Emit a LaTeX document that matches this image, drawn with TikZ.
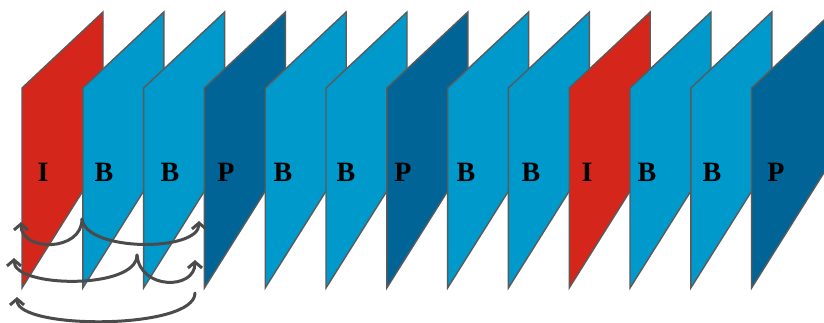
\documentclass[tikz,border=0pt]{standalone}
\usepackage{fontspec}
\setmainfont{Liberation Serif}
\usetikzlibrary{arrows.meta}
\definecolor{frameI}{RGB}{212,38,26}
\definecolor{frameB}{RGB}{0,153,204}
\definecolor{frameP}{RGB}{0,100,150}
\definecolor{edgegray}{RGB}{90,90,90}
\definecolor{refgray}{RGB}{75,75,75}
\tikzset{
  frame/.style={draw=edgegray, line width=1.4pt, line join=miter},
  ftype/.style={font=\fontsize{28}{28}\selectfont\bfseries, text=black, inner sep=0pt},
  ref/.style={draw=refgray, line width=3pt, line cap=round,
    -{Straight Barb[length=6pt,width=14pt,line width=3pt]}},
}
\begin{document}
\begin{tikzpicture}[x=1pt,y=-1pt]
\useasboundingbox (0,0) rectangle (824,322);
\begin{scope}
\clip (0,0) rectangle (824,322);
% frames in display order, each one in front of the previous
\foreach \t/\c/\lx [count=\k from 0] in
  {I/frameI/43, B/frameB/104, B/frameB/170, P/frameP/226,
   B/frameB/283, B/frameB/346, P/frameP/403, B/frameB/466,
   B/frameB/531, I/frameI/587, B/frameB/647, B/frameB/712, P/frameP/776}{
  \pgfmathsetmacro{\L}{22+60.8*\k}
  \filldraw[frame, fill=\c] (\L,88) -- (\L+81,12) -- (\L+81,159) -- (\L,288) -- cycle;
  \node[ftype] (f\k) at (\lx,172) {\t};
}
\end{scope}
% reference points for the prediction arrows
\coordinate (b1) at (82,219);
\coordinate (i1) at (21,222);
\coordinate (p1) at (199,221);
\coordinate (b2) at (137,255);
\coordinate (i2) at (14,258);
\coordinate (p2) at (195,260);
\coordinate (p3) at (195,293);
\coordinate (i3) at (17,297);
% first B frame references I and P
\draw[ref] (b1) .. controls (82,252) and (21,252) .. (i1);
\draw[ref] (b1) .. controls (86,252) and (199,252) .. (p1);
% second B frame references I and P
\draw[ref] (b2) .. controls (137,290) and (14,288) .. (i2);
\draw[ref] (b2) .. controls (140,290) and (195,290) .. (p2);
% P frame references I
\draw[ref] (p3) .. controls (195,330) and (17,330) .. (i3);
\end{tikzpicture}
\end{document}
